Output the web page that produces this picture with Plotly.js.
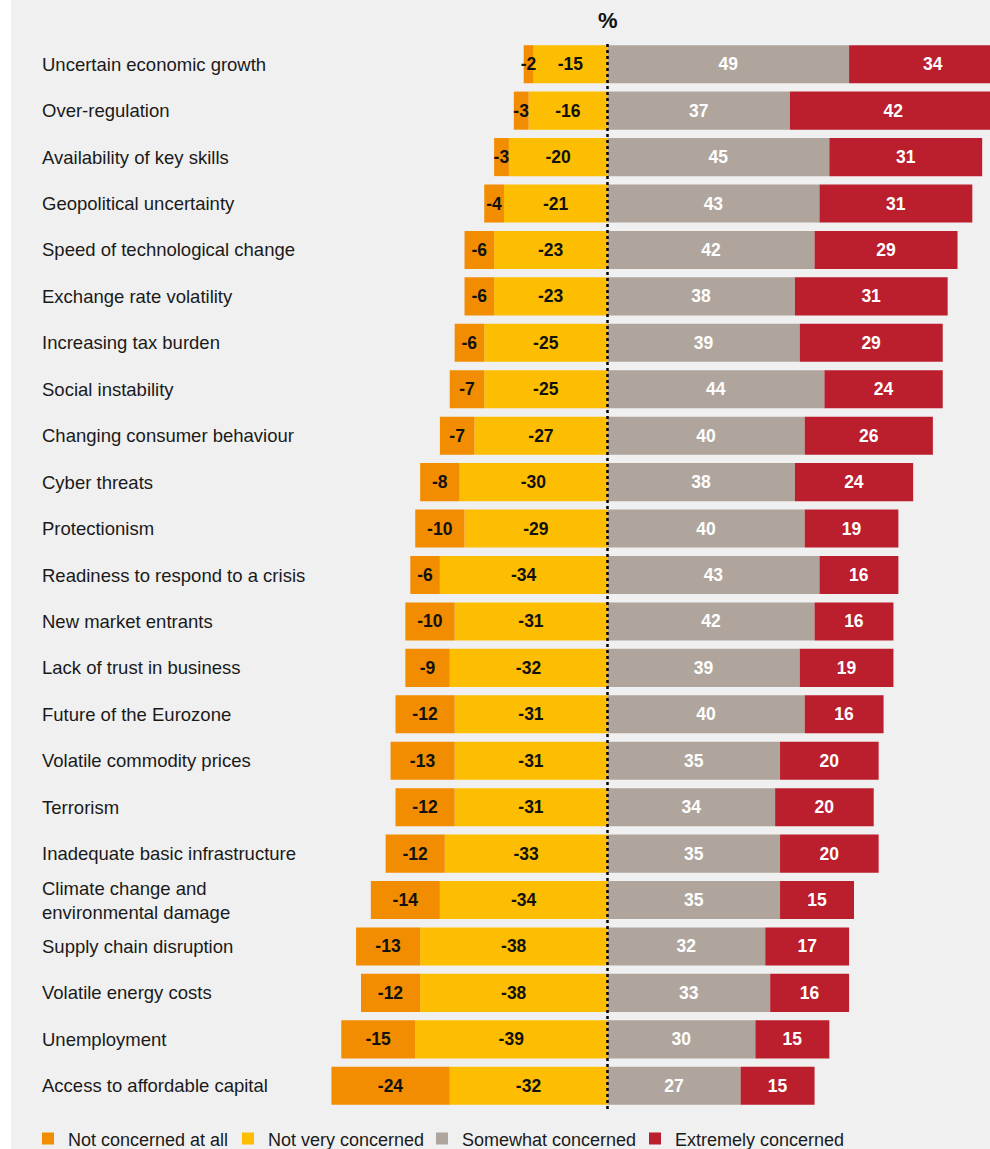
<!DOCTYPE html>
<html>
<head>
<meta charset="utf-8">
<script src="https://cdn.plot.ly/plotly-3.0.1.min.js"></script>
<style>
  html, body { margin: 0; padding: 0; background: #ffffff; }
  #chart { position: absolute; left: 11px; top: 0; width: 979px; height: 1149px; }
</style>
</head>
<body>
<div id="chart"></div>
<script>
const categories = [
  'Uncertain economic growth',
  'Over-regulation',
  'Availability of key skills',
  'Geopolitical uncertainty',
  'Speed of technological change',
  'Exchange rate volatility',
  'Increasing tax burden',
  'Social instability',
  'Changing consumer behaviour',
  'Cyber threats',
  'Protectionism',
  'Readiness to respond to a crisis',
  'New market entrants',
  'Lack of trust in business',
  'Future of the Eurozone',
  'Volatile commodity prices',
  'Terrorism',
  'Inadequate basic infrastructure',
  'Climate change and<br>environmental damage',
  'Supply chain disruption',
  'Volatile energy costs',
  'Unemployment',
  'Access to affordable capital'
];
const notAtAll  = [-2, -3, -3, -4, -6, -6, -6, -7, -7, -8, -10, -6, -10, -9, -12, -13, -12, -12, -14, -13, -12, -15, -24];
const notVery   = [-15, -16, -20, -21, -23, -23, -25, -25, -27, -30, -29, -34, -31, -32, -31, -31, -31, -33, -34, -38, -38, -39, -32];
const somewhat  = [49, 37, 45, 43, 42, 38, 39, 44, 40, 38, 40, 43, 42, 39, 40, 35, 34, 35, 35, 32, 33, 30, 27];
const extremely = [34, 42, 31, 31, 29, 31, 29, 24, 26, 24, 19, 16, 16, 19, 16, 20, 20, 20, 15, 17, 16, 15, 15];
const seriesNames = ['Not concerned at all', 'Not very concerned', 'Somewhat concerned', 'Extremely concerned'];

const FONT = 'Liberation Sans, Arial, Helvetica, sans-serif';
const colors = ['#f28c00', '#fdbd00', '#afa59c', '#bb1e2d'];
const legendWidths = [155, 149, 168, 180];

function barTrace(vals, idx, textColor) {
  return {
    type: 'bar',
    orientation: 'h',
    name: seriesNames[idx],
    x: vals,
    y: categories,
    text: vals.map(v => String(v)),
    texttemplate: '%{text}',
    marker: { color: colors[idx], line: { width: 0 } },
    textposition: 'inside',
    insidetextanchor: 'middle',
    constraintext: 'none',
    textangle: 0,
    textfont: { family: FONT, size: 17.5, color: textColor, weight: 'bold' },
    legendrank: idx + 1,
    legendwidth: legendWidths[idx],
    hoverinfo: 'name+x'
  };
}

const data = [
  barTrace(notVery, 1, '#111111'),
  barTrace(notAtAll, 0, '#111111'),
  barTrace(somewhat, 2, '#ffffff'),
  barTrace(extremely, 3, '#ffffff')
];

const pxPerUnit = 4.93;
const zeroPx = 596.5;
const plotW = 979;

const annotations = categories.map(c => ({
  xref: 'paper', yref: 'y',
  x: 29 / plotW, y: c,
  xanchor: 'left', yanchor: 'middle', align: 'left',
  text: c, showarrow: false,
  font: { family: FONT, size: 18.5, color: '#1a1a1a' }
}));
annotations.push({
  xref: 'x', yref: 'paper', x: 0, y: 1,
  xanchor: 'center', yanchor: 'middle', yshift: 21,
  text: '%', showarrow: false,
  font: { family: FONT, size: 22, color: '#111111', weight: 'bold' }
});

const layout = {
  width: 979,
  height: 1149,
  margin: { l: 0, r: 0, t: 41, b: 40, pad: 0, autoexpand: false },
  paper_bgcolor: '#f0f0f0',
  plot_bgcolor: '#f0f0f0',
  barmode: 'relative',
  bargap: 0.18,
  showlegend: true,
  legend: {
    orientation: 'h',
    x: 17 / plotW, xanchor: 'left',
    y: -0.028, yanchor: 'middle',
    font: { family: FONT, size: 18, color: '#1a1a1a' },
    bgcolor: 'rgba(0,0,0,0)',
    traceorder: 'normal',
    itemclick: false, itemdoubleclick: false
  },
  xaxis: {
    range: [-zeroPx / pxPerUnit, (plotW - zeroPx) / pxPerUnit],
    visible: false, fixedrange: true
  },
  yaxis: {
    type: 'category',
    range: [categories.length - 0.5, -0.5],
    visible: false, fixedrange: true
  },
  shapes: [{
    type: 'line', xref: 'x', yref: 'paper',
    x0: 0, x1: 0, y0: 0, y1: 1,
    line: { color: '#000000', width: 2.5, dash: 'dot' },
    layer: 'above'
  }],
  annotations: annotations
};

Plotly.newPlot('chart', data, layout, { displayModeBar: false, staticPlot: true });
</script>
</body>
</html>
